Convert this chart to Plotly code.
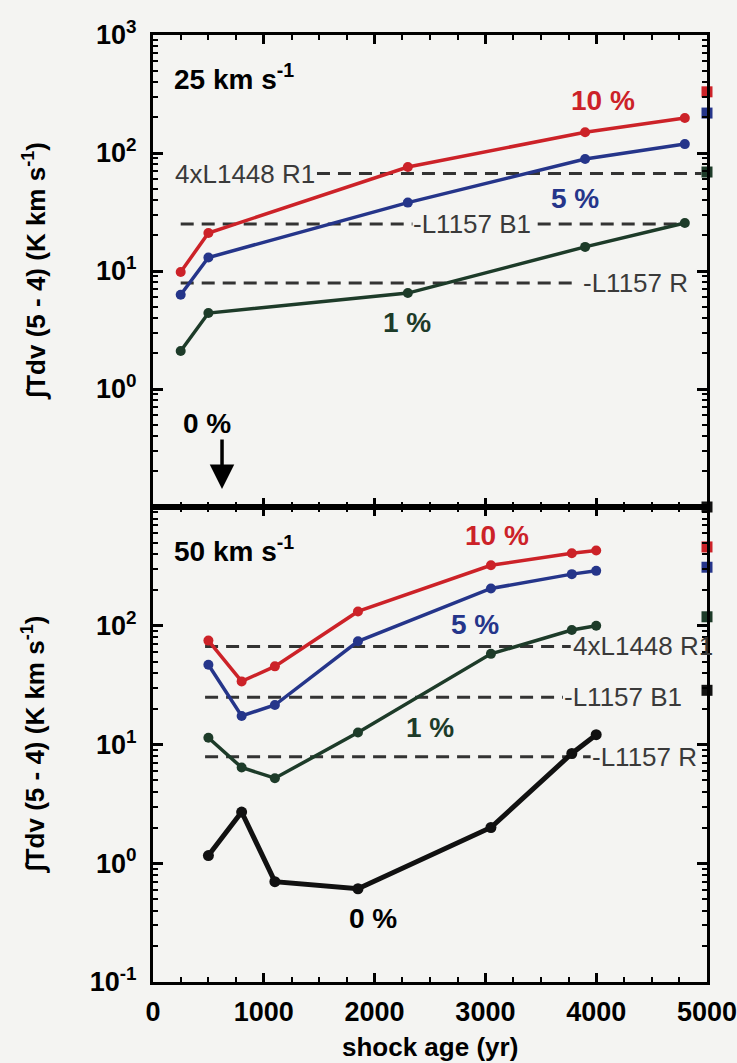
import math
import plotly.graph_objects as go

# ---------------- data ----------------
# 25 km/s shock
age25 = [250, 500, 2300, 3900, 4800]
f25_10 = [9.8, 21, 76, 150, 198]
f25_5 = [6.3, 13, 38, 89, 119]
f25_1 = [2.1, 4.4, 6.5, 16, 25.5]
obs25 = {"10": 330, "5": 218, "1": 69, "0": 0.1}

# 50 km/s shock
age50 = [500, 800, 1100, 1850, 3050, 3780, 4000]
f50_10 = [75, 34, 45.5, 132, 323, 408, 430]
f50_5 = [47, 17.4, 21.5, 74, 206, 272, 290]
f50_1 = [11.4, 6.4, 5.2, 12.6, 58, 92, 100]
f50_0 = [1.16, 2.7, 0.70, 0.61, 2.0, 8.4, 12.1]
obs50 = {"10": 461, "5": 311, "1": 119, "0": 28.6}

ref_names = ["4xL1448 R1", "L1157 B1", "L1157 R"]
ref_values = [67, 25, 7.9]

colors = {"10": "#cc2228", "5": "#25358a", "1": "#1d3b29", "0": "#111111"}
BG = "#f4f4f2"
FONT = "Liberation Sans, Arial, Helvetica, sans-serif"
DASHC = "#333333"

fig = go.Figure()

# ---------- reference dashed lines ----------
top_ext = [(1480, 4950), (250, 4800), (250, 3850)]
bot_ext = [(470, 3770), (470, 3700), (470, 3950)]
for (x0, x1), v in zip(top_ext, ref_values):
    fig.add_trace(go.Scatter(x=[x0, x1], y=[v, v], mode="lines", xaxis="x", yaxis="y",
                             line=dict(color=DASHC, width=3, dash="13px,8px"),
                             showlegend=False, hoverinfo="skip"))
for (x0, x1), v in zip(bot_ext, ref_values):
    fig.add_trace(go.Scatter(x=[x0, x1], y=[v, v], mode="lines", xaxis="x2", yaxis="y2",
                             line=dict(color=DASHC, width=3, dash="13px,8px"),
                             showlegend=False, hoverinfo="skip"))

# ---------- model curves ----------
def curve(x, y, c, xa, ya, w=3.5, ms=10):
    fig.add_trace(go.Scatter(x=x, y=y, mode="lines+markers", xaxis=xa, yaxis=ya,
                             line=dict(color=c, width=w), marker=dict(color=c, size=ms),
                             showlegend=False))

curve(age25, f25_10, colors["10"], "x", "y")
curve(age25, f25_5, colors["5"], "x", "y")
curve(age25, f25_1, colors["1"], "x", "y")

curve(age50, f50_10, colors["10"], "x2", "y2")
curve(age50, f50_5, colors["5"], "x2", "y2")
curve(age50, f50_1, colors["1"], "x2", "y2")
curve(age50, f50_0, colors["0"], "x2", "y2", w=5, ms=11)

# ---------- observed squares on right edge ----------
for k, v in obs25.items():
    fig.add_trace(go.Scatter(x=[5000], y=[v], mode="markers", xaxis="x", yaxis="y",
                             marker=dict(symbol="square", color=colors[k], size=11),
                             cliponaxis=False, showlegend=False))
for k, v in obs50.items():
    fig.add_trace(go.Scatter(x=[5000], y=[v], mode="markers", xaxis="x2", yaxis="y2",
                             marker=dict(symbol="square", color=colors[k], size=11),
                             cliponaxis=False, showlegend=False))

# ---------- axes ----------
minor_vals = [m * 10 ** e for e in range(-1, 3) for m in range(2, 10)]
tickfont = dict(family=FONT, size=27, color="black", weight="bold")

def xaxis(anchor, labels):
    return dict(anchor=anchor, domain=[0, 1], range=[0, 5000], showline=True, linecolor="black",
                linewidth=3, mirror="ticks", ticks="inside", ticklen=9, tickwidth=2.5,
                tickcolor="black", dtick=1000, tick0=0, showgrid=False, zeroline=False,
                showticklabels=labels, tickfont=tickfont, ticklabelstandoff=4,
                ticklabeloverflow="allow", automargin=False,
                minor=dict(ticks="inside", ticklen=5, tickwidth=2, tickcolor="black", dtick=250,
                           tick0=0, showgrid=False))

def yaxis(anchor, dom, vals):
    return dict(anchor=anchor, domain=dom, type="log", range=[-1, 3], showline=True,
                linecolor="black", linewidth=3, mirror="ticks", ticks="inside", ticklen=10,
                tickwidth=2.5, tickcolor="black", tickmode="array", tickvals=vals,
                ticktext=["10<sup>%d</sup>" % round(math.log10(v)) for v in vals],
                showgrid=False, zeroline=False, tickfont=tickfont, ticklabelstandoff=8,
                ticklabeloverflow="allow", automargin=False,
                minor=dict(ticks="inside", ticklen=5, tickwidth=1.5, tickcolor="black",
                           tickmode="array", tickvals=minor_vals, showgrid=False))

TOP, BOT, MID = 35, 982, 507
H = BOT - TOP
split = (BOT - MID) / H
fig.update_layout(
    width=737, height=1063,
    margin=dict(l=153, r=30, t=TOP, b=1063 - BOT, autoexpand=False),
    paper_bgcolor=BG, plot_bgcolor=BG,
    xaxis=xaxis("y", False),
    yaxis=yaxis("x", [split, 1], [1, 10, 100, 1000]),
    xaxis2=xaxis("y2", True),
    yaxis2=yaxis("x2", [0, split], [0.1, 1, 10, 100]),
    showlegend=False,
)

# ---------- annotations ----------
ann = []
def txt(x, y, s, xa, ya, color="black", size=28, weight="bold", xanchor="center", bg=None):
    d = dict(x=x, y=y, xref=xa, yref=ya, text=s, showarrow=False, xanchor=xanchor,
             yanchor="middle", font=dict(family=FONT, size=size, color=color, weight=weight))
    if bg:
        d.update(bgcolor=bg, borderpad=0)
    ann.append(d)

L = math.log10
GRAY = "#3a3a3a"
RS = 26
# top panel
txt(175, L(440), "25 km s<sup>-1</sup>", "x", "y", xanchor="left")
txt(4061, L(281), "10 %", "x", "y", color=colors["10"])
txt(3809, L(41.3), "5 %", "x", "y", color=colors["5"])
txt(2292, L(3.66), "1 %", "x", "y", color=colors["1"])
txt(487, L(0.507), "0 %", "x", "y")
ann.append(dict(x=623, y=L(0.142), ax=623, ay=L(0.385), xref="x", yref="y", axref="x", ayref="y",
                showarrow=True, arrowhead=2, arrowsize=1.4, arrowwidth=3.5, arrowcolor="black", text=""))
txt(1480, L(ref_values[0]), ref_names[0], "x", "y", color=GRAY, size=RS, weight="normal", xanchor="right")
txt(2880, L(ref_values[1]), "-" + ref_names[1], "x", "y", color=GRAY, size=RS, weight="normal", bg=BG)
txt(3860, L(ref_values[2]), "-" + ref_names[2], "x", "y", color=GRAY, size=RS, weight="normal", xanchor="left")

# bottom panel
txt(175, L(445), "50 km s<sup>-1</sup>", "x2", "y2", xanchor="left")
txt(3105, L(571), "10 %", "x2", "y2", color=colors["10"])
txt(2906, L(103), "5 %", "x2", "y2", color=colors["5"])
txt(2500, L(14), "1 %", "x2", "y2", color=colors["1"])
txt(1986, L(0.344), "0 %", "x2", "y2")
txt(3770, L(ref_values[0]), ref_names[0], "x2", "y2", color=GRAY, size=RS, weight="normal", xanchor="left")
txt(3690, L(ref_values[1]), "-" + ref_names[1], "x2", "y2", color=GRAY, size=RS, weight="normal", xanchor="left")
txt(3940, L(ref_values[2]), "-" + ref_names[2], "x2", "y2", color=GRAY, size=RS, weight="normal", xanchor="left")

# axis titles
ytitle = "\u222bTdv (5 - 4) (K km s<sup>-1</sup>)"
for yc in [(split + 1) / 2, split / 2]:
    ann.append(dict(x=-0.215, y=yc, xref="paper", yref="paper", text=ytitle, showarrow=False,
                    textangle=-90, xanchor="center", yanchor="middle",
                    font=dict(family=FONT, size=26, color="black", weight="bold")))
ann.append(dict(x=0.5, y=-(1047 - BOT) / H, xref="paper", yref="paper", text="shock age (yr)",
                showarrow=False, xanchor="center", yanchor="middle",
                font=dict(family=FONT, size=26, color="black", weight="bold")))

fig.update_layout(annotations=ann)
fig.write_html("out.html", config={"displayModeBar": False},
               post_script="document.body.style.margin='0';document.body.style.overflow='hidden';")
